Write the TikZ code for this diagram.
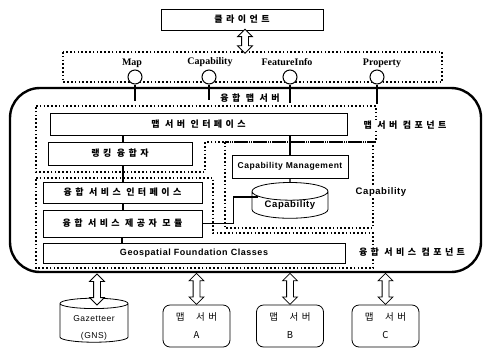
\documentclass[tikz,border=0pt]{standalone}
\usepackage{fontspec}
\setmainfont{Liberation Serif}
\setsansfont{Liberation Sans}[LetterSpace=6]
\newfontfamily\krfont[LetterSpace=38]{Noto Sans CJK KR}
\usetikzlibrary{arrows.meta, positioning, calc, shapes.geometric, shapes.arrows}

\begin{document}
\begin{tikzpicture}[
    x=1pt, y=-1pt,
    font=\sffamily,
    box/.style     = {draw, line width=0.8pt, inner sep=0pt, align=center, fill=white},
    krbox/.style   = {box, font=\krfont\bfseries\fontsize{9}{10}\selectfont},
    enbox/.style   = {box, font=\sffamily\bfseries\fontsize{9}{10}\selectfont},
    srvbox/.style  = {box, rounded corners=7pt, font=\krfont\fontsize{9.5}{18}\selectfont,
                      minimum width=67pt, minimum height=42pt},
    db/.style      = {cylinder, shape border rotate=90, draw, line width=0.8pt,
                      aspect=0.35, inner sep=0pt, align=center, fill=white},
    region/.style  = {line width=1.6pt, dash pattern=on 1.6pt off 2.2pt},
    tag/.style     = {fill=white, inner sep=1pt, font=\krfont\bfseries\fontsize{9}{10}\selectfont},
    port/.style    = {circle, draw, line width=1pt, minimum size=14pt, inner sep=0pt, fill=white},
    portname/.style= {font=\rmfamily\bfseries\fontsize{10}{10}\selectfont},
    stem/.style    = {line width=1.6pt},
    wire/.style    = {line width=1.2pt},
    fatarrow/.style= {double arrow, draw, line width=0.8pt, fill=white, rotate=90,
                      inner xsep=0pt, inner ysep=3pt, double arrow head extend=4pt}
]
\useasboundingbox (0,0) rectangle (484,349);

% client and its interfaces
\node[krbox, minimum width=162pt, minimum height=21pt] (client) at (242,19.5) {클라이언트};
\draw[region] (63,52) rectangle (442,82);
\coordinate (apitop) at (245,52);

% fused map server
\node[draw, line width=2.4pt, rounded corners=30pt,
      minimum width=471pt, minimum height=184pt] (server) at (245.5,180) {};
\node[tag, fill=none] (srvlabel) at (250,98) {융합 맵 서버};

% dotted component regions
\draw[region] (36,106) -- (376,106) -- (376,142) -- (205,142) -- (205,172) -- (36,172) -- cycle;
\draw[region] (225,142) rectangle (373,228);
\draw[region] (36,178) -- (213,178) -- (213,233) -- (373,233) -- (373,268) -- (36,268) -- cycle;

\node[tag] (mapcomp) at (405,125) {맵 서버 컴포넌트};
\node[tag, font=\sffamily\bfseries\fontsize{9.5}{10}\selectfont] (capcomp) at (381,192) {Capability};
\node[tag] (fuscomp) at (412,252) {융합 서비스 컴포넌트};

% ports (lollipops) on the server
\node[port] (pmap)  at (135,77) {};
\node[port] (pcap)  at (209,77) {};
\node[port] (pfeat) at (290,77) {};
\node[port] (pprop) at (377,77) {};
\node[portname] (nmap)  at (132,63) {Map};
\node[portname] (ncap)  at (210,62) {Capability};
\node[portname] (nfeat) at (287,62) {FeatureInfo};
\node[portname] (nprop) at (382,63) {Property};

\coordinate (smap)  at (135,101);
\coordinate (scap)  at (209,100);
\coordinate (sfeat) at (290,103);
\coordinate (sprop) at (377,104);
\draw[stem] (pmap)  -- (smap);
\draw[stem] (pcap)  -- (scap);
\draw[stem] (pfeat) -- (sfeat);
\draw[stem] (pprop) -- (sprop);

% inner modules
\node[krbox, minimum width=297pt, minimum height=22pt] (msi)  at (198.5,124) {맵 서버 인터페이스};
\node[krbox, minimum width=144pt, minimum height=23pt] (rank) at (120,153.5) {랭킹 융합자};
\node[krbox, minimum width=159pt, minimum height=21pt] (fsi)  at (122.5,192.5) {융합 서비스 인터페이스};
\node[krbox, minimum width=159pt, minimum height=27pt] (fsp)  at (122.5,223.5) {융합 서비스 제공자 모듈};
\node[enbox, minimum width=302pt, minimum height=20pt] (gfc)  at (194,253) {Geospatial Foundation Classes};
\node[enbox, minimum width=116pt, minimum height=23pt,
      font=\sffamily\bfseries\fontsize{8.5}{10}\selectfont] (capm) at (290,166.5) {Capability Management};
\node[db, font=\sffamily\bfseries\fontsize{9.5}{10}\selectfont,
      minimum width=76pt, minimum height=34pt] (capdb) at (290,205) {Capability};

\draw[wire] (rank.north -| 123,0) -- (msi.south -| 123,0);
\draw[wire] (rank.south -| 123,0) -- (fsi.north -| 123,0);
\draw[wire] (fsi.south -| 123,0) -- (fsp.north -| 123,0);
\draw[wire] (fsp.south -| 122,0) -- (gfc.north -| 122,0);
\draw[wire] (capm.north) -- (capm.north |- msi.south);
\draw[wire] (capm.south) -- (capdb.north);
\draw[wire] (fsp.east) -- ++(31,0) |- ($(capdb.west)+(6,-8)$);

% back-end sources
\node[db, aspect=0.25, font=\sffamily\fontsize{8.5}{10}\selectfont,
      minimum width=68pt, minimum height=44pt] (gaz) at (94,323)
     {\raisebox{-7pt}[0pt][0pt]{\begin{tabular}{@{}c@{}}Gazetteer\\[7pt](GNS)\end{tabular}}};
\node[srvbox] (msa) at (196.5,326) {맵\ \ 서버\\A};
\node[srvbox] (msb) at (290,326)   {맵\ \ 서버\\B};
\node[srvbox] (msc) at (385.5,326) {맵\ \ 서버\\C};

% fat two-way arrows
\path (client.south -| apitop) -- node[fatarrow, minimum height=24pt] (a0) {} (apitop);
\path (97,274)  -- node[fatarrow, minimum height=31pt] (a1) {} (97,305);
\path (msa.north |- server.south) -- node[fatarrow, minimum height=31pt] (a2) {} (msa.north);
\path (msb.north |- server.south) -- node[fatarrow, minimum height=31pt] (a3) {} (msb.north);
\path (msc.north |- server.south) -- node[fatarrow, minimum height=31pt] (a4) {} (msc.north);

\end{tikzpicture}
\end{document}
